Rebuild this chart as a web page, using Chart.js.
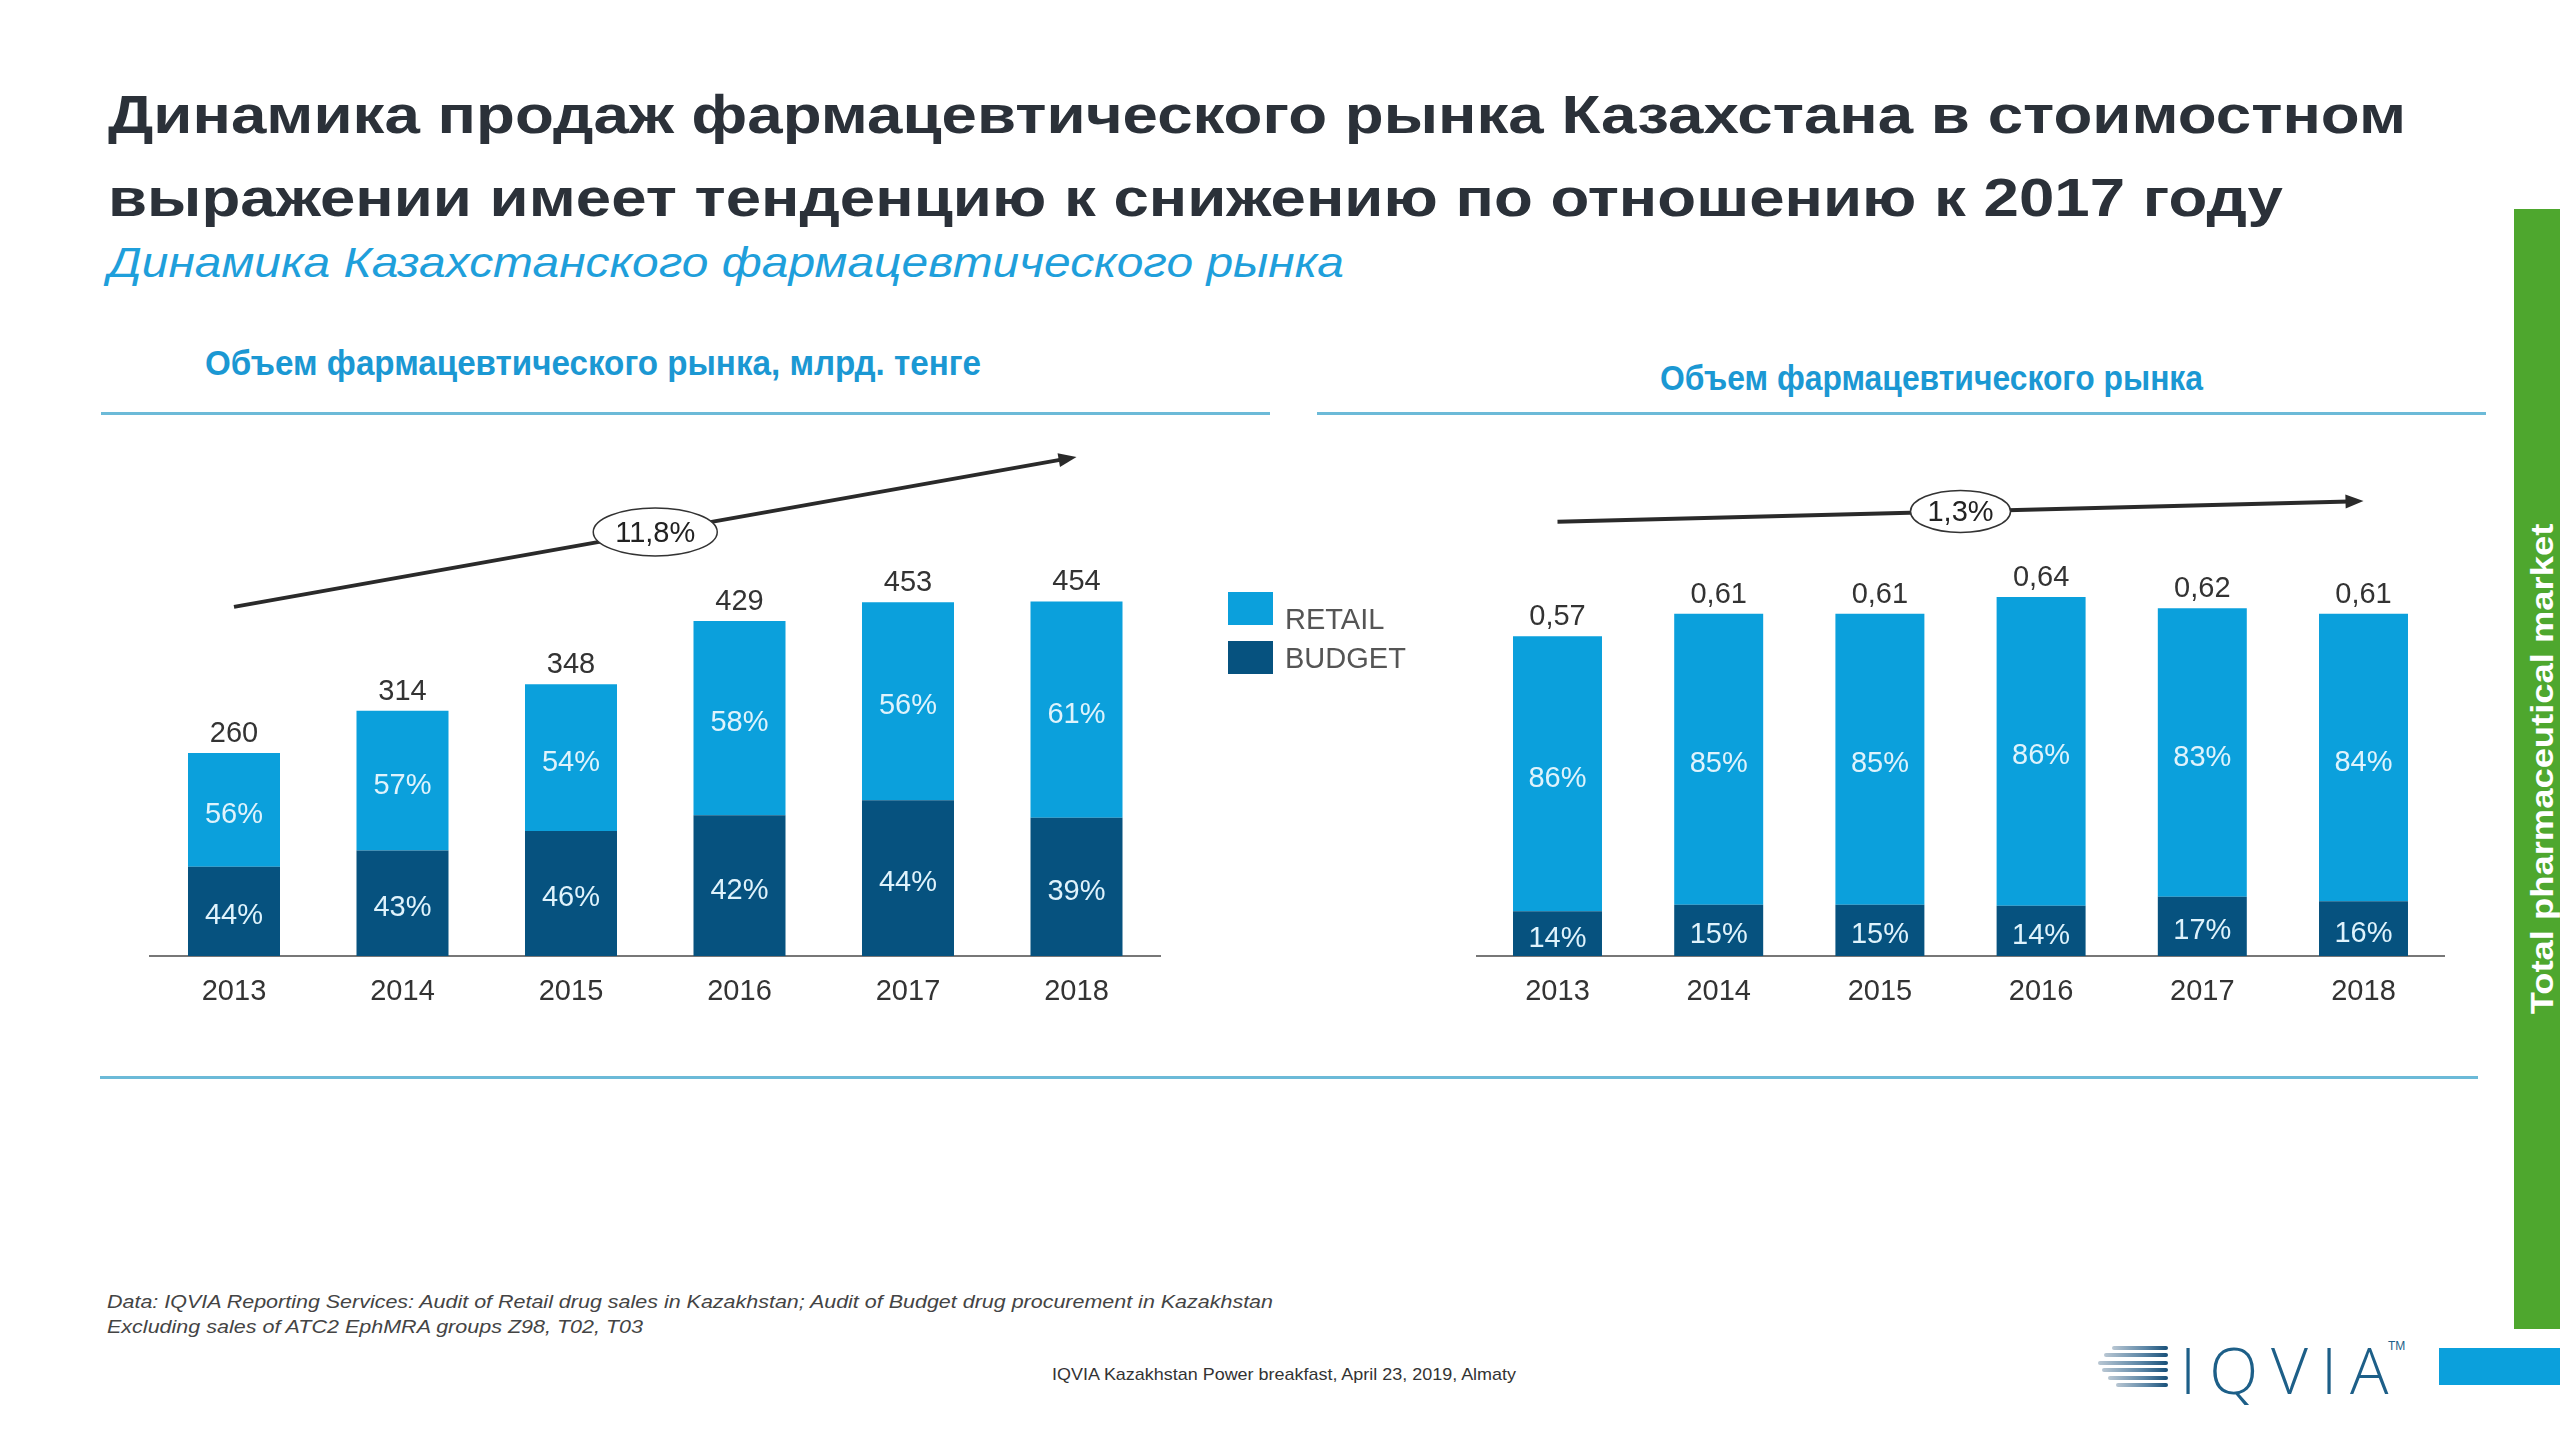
<!DOCTYPE html>
<html>
<head>
<meta charset="utf-8">
<script src="https://cdn.jsdelivr.net/npm/chart.js@4.4.1/dist/chart.umd.min.js"></script>
<style>
  body{margin:0;width:2560px;height:1440px;background:#fff;position:relative;overflow:hidden;font-family:'Liberation Sans',Arial,sans-serif;}
  .abs{position:absolute;white-space:nowrap;line-height:1;transform-origin:0 0;}
  .title{left:108px;font-size:54px;font-weight:bold;color:#2b3139;}
  .sub{left:108px;top:242px;font-size:42px;font-style:italic;color:#1f9fdb;}
  .head{font-size:35px;font-weight:bold;color:#1b98d3;}
  .rule{position:absolute;height:3px;background:#6cbad8;}
  .sw{position:absolute;width:45px;height:33px;}
  .leg{font-size:29px;color:#555;}
  .note{left:107px;font-size:19px;font-style:italic;color:#444;}
  canvas{position:absolute;}
</style>
</head>
<body>
<div class="abs title" data-w="2298" style="top:87px">Динамика продаж фармацевтического рынка Казахстана в стоимостном</div>
<div class="abs title" data-w="2175" style="top:170px">выражении имеет тенденцию к снижению по отношению к 2017 году</div>
<div class="abs sub" data-w="1236">Динамика Казахстанского фармацевтического рынка</div>

<div class="abs head" data-w="776" style="left:205px;top:345px">Объем фармацевтического рынка,  млрд. тенге</div>
<div class="abs head" data-w="543" style="left:1660px;top:360px">Объем фармацевтического рынка</div>
<div class="rule" style="left:101px;top:412px;width:1169px"></div>
<div class="rule" style="left:1317px;top:412px;width:1169px"></div>
<div class="rule" style="left:100px;top:1076px;width:2378px"></div>

<canvas id="left" width="1190" height="680" style="left:100px;top:380px"></canvas>
<canvas id="right" width="1200" height="680" style="left:1300px;top:380px"></canvas>

<div class="sw" style="left:1228px;top:592px;background:#0ba0dc"></div>
<div class="sw" style="left:1228px;top:641px;background:#06527f"></div>
<div class="abs leg" id="legR" style="left:1285px;top:605px"></div>
<div class="abs leg" id="legB" style="left:1285px;top:644px"></div>

<div class="abs note" data-w="1166" style="top:1292px">Data: IQVIA Reporting Services: Audit of Retail drug sales in Kazakhstan; Audit of Budget drug procurement in Kazakhstan</div>
<div class="abs note" data-w="536" style="top:1317px">Excluding sales of ATC2 EphMRA groups Z98, T02, T03</div>
<div class="abs" data-w="464" style="left:1052px;top:1366px;font-size:17px;color:#333">IQVIA Kazakhstan  Power breakfast, April 23,  2019, Almaty</div>

<!-- side bar -->
<div style="position:absolute;left:2514px;top:209px;width:46px;height:1120px;background:#4ea72e"></div>
<div class="abs" id="side" style="left:2542px;top:769px;font-size:32px;font-weight:bold;color:#fff;transform-origin:50% 50%;transform:translate(-50%,-50%) rotate(-90deg)">Total pharmaceutical market</div>
<div style="position:absolute;left:2439px;top:1348px;width:121px;height:37px;background:#0ba0dc"></div>

<!-- logo -->
<div id="logoLines" style="position:absolute;left:2098px;top:1346px;width:72px;height:42px"></div>
<div class="abs" style="left:2180px;top:1338px;font-size:64px;letter-spacing:13px;color:#1d5f88;font-family:'Open Sans','Liberation Sans',sans-serif;font-weight:300">IQVIA</div>
<div class="abs" style="left:2388px;top:1340px;font-size:12px;color:#1d5f88">TM</div>

<script>
// data
const years = ['2013','2014','2015','2016','2017','2018'];
const seriesNames = ['RETAIL','BUDGET'];

// left chart: market volume, bln tenge
const valueTotals = [260, 314, 348, 429, 453, 454];
const valueRetailPct = [56, 57, 54, 58, 56, 61];
const valueBudgetPct = [44, 43, 46, 42, 44, 39];
const valueCagr = '11,8%';

// right chart: market volume in units
const unitTotals = [0.57, 0.61, 0.61, 0.64, 0.62, 0.61];
const unitRetailPct = [86, 85, 85, 86, 83, 84];
const unitBudgetPct = [14, 15, 15, 14, 17, 16];
const unitCagr = '1,3%';

const retailColor = '#0ba0dc';
const budgetColor = '#06527f';
const font = "'Liberation Sans', Arial, sans-serif";

document.getElementById('legR').textContent = seriesNames[0];
document.getElementById('legB').textContent = seriesNames[1];

// logo stripes
(function(){
  const box = document.getElementById('logoLines');
  const offs = [14, 6, 0, 4, 10, 18];
  offs.forEach((o,i)=>{
    const d = document.createElement('div');
    d.style.cssText = `position:absolute;left:${o}px;top:${i*7.4}px;width:${70-o}px;height:4px;background:linear-gradient(90deg,#b9c7d3,#5c86a6 60%,#174f78);border-radius:2px`;
    box.appendChild(d);
  });
})();

// stretch text horizontally to the width it takes in the slide
document.querySelectorAll('[data-w]').forEach(el=>{
  const w = Number(el.dataset.w);
  const cur = el.getBoundingClientRect().width;
  el.style.transform = 'scaleX(' + (w/cur) + ')';
});
(function(){
  const s = document.getElementById('side');
  const k = 491 / s.offsetWidth;
  s.style.transform = 'translate(-50%,-50%) rotate(-90deg) scaleX(' + k + ')';
})();

function fmt(v){ return String(v).replace('.', ','); }

const labelsPlugin = {
  id:'labelsPlugin',
  afterDatasetsDraw(chart, args, opts){
    const ctx = chart.ctx;
    const budgetMeta = chart.getDatasetMeta(0), retailMeta = chart.getDatasetMeta(1);
    ctx.save();
    ctx.textAlign = 'center';
    ctx.textBaseline = 'middle';
    ctx.font = '29px ' + font;
    budgetMeta.data.forEach((b,i)=>{
      const r = retailMeta.data[i];
      ctx.fillStyle = '#dff3fc';
      ctx.fillText(opts.budgetPct[i]+'%', b.x, (b.y+b.base)/2 + 5);
      ctx.fillText(opts.retailPct[i]+'%', r.x, (r.y+r.base)/2 + 5);
      ctx.fillStyle = '#333';
      ctx.fillText(fmt(opts.totals[i]), r.x, r.y - 19);
    });
    ctx.restore();
  }
};

// growth arrow with CAGR bubble, placed in data units
const trendPlugin = {
  id:'trendPlugin',
  afterDraw(chart, args, opts){
    const xs = chart.scales.x, ys = chart.scales.y, ctx = chart.ctx;
    const x0 = xs.getPixelForValue(opts.from[0]), y0 = ys.getPixelForValue(opts.from[1]);
    const x1 = xs.getPixelForValue(opts.to[0]), y1 = ys.getPixelForValue(opts.to[1]);
    const ang = Math.atan2(y1-y0, x1-x0);
    ctx.save();
    ctx.strokeStyle = '#2a2a2a'; ctx.fillStyle = '#2a2a2a';
    ctx.lineWidth = 4;
    ctx.beginPath();
    ctx.moveTo(x0,y0);
    ctx.lineTo(x1 - 14*Math.cos(ang), y1 - 14*Math.sin(ang));
    ctx.stroke();
    ctx.translate(x1,y1); ctx.rotate(ang);
    ctx.beginPath(); ctx.moveTo(0,0); ctx.lineTo(-18,-7); ctx.lineTo(-18,7); ctx.closePath(); ctx.fill();
    ctx.setTransform(1,0,0,1,0,0);
    const cx = (x0+x1)/2, cy = (y0+y1)/2;
    ctx.beginPath();
    ctx.ellipse(cx, cy, opts.rx, opts.ry, 0, 0, Math.PI*2);
    ctx.fillStyle = '#fff'; ctx.fill();
    ctx.lineWidth = 1.5; ctx.strokeStyle = '#333'; ctx.stroke();
    ctx.fillStyle = '#222';
    ctx.font = '29px ' + font;
    ctx.textAlign = 'center'; ctx.textBaseline = 'middle';
    ctx.fillText(opts.label, cx, cy + 2);
    ctx.restore();
  }
};

function makeChart(id, totals, retailPct, budgetPct, yMax, pad, barPct, trend){
  const budget = totals.map((t,i)=> t*budgetPct[i]/100);
  const retail = totals.map((t,i)=> t*retailPct[i]/100);
  return new Chart(document.getElementById(id), {
    type:'bar',
    data:{
      labels: years,
      datasets:[
        {label:seriesNames[1], data:budget, backgroundColor:budgetColor, barPercentage:barPct, categoryPercentage:1},
        {label:seriesNames[0], data:retail, backgroundColor:retailColor, barPercentage:barPct, categoryPercentage:1}
      ]
    },
    options:{
      responsive:false, animation:false, devicePixelRatio:1,
      layout:{padding:pad},
      plugins:{
        legend:{display:false}, tooltip:{enabled:false},
        labelsPlugin:{totals, retailPct, budgetPct},
        trendPlugin: trend
      },
      scales:{
        x:{stacked:true, grid:{display:false, drawTicks:false},
           border:{display:true, color:'#777', width:2},
           ticks:{color:'#333', font:{size:29, family:font}, padding:19, maxRotation:0},
           afterFit(s){ s.height = 60; }},
        y:{stacked:true, display:false, min:0, max:yMax}
      }
    },
    plugins:[labelsPlugin, trendPlugin]
  });
}

makeChart('left', valueTotals, valueRetailPct, valueBudgetPct, 700,
  {left:49.75, right:129.25, top:29.3, bottom:44}, 0.546,
  {from:[0,447], to:[5,639], label:valueCagr, rx:62, ry:24});

makeChart('right', unitTotals, unitRetailPct, unitBudgetPct, 1.0,
  {left:176.9, right:55.9, top:15, bottom:44}, 0.552,
  {from:[0,0.774], to:[5,0.811], label:unitCagr, rx:50, ry:21});
</script>
</body>
</html>
